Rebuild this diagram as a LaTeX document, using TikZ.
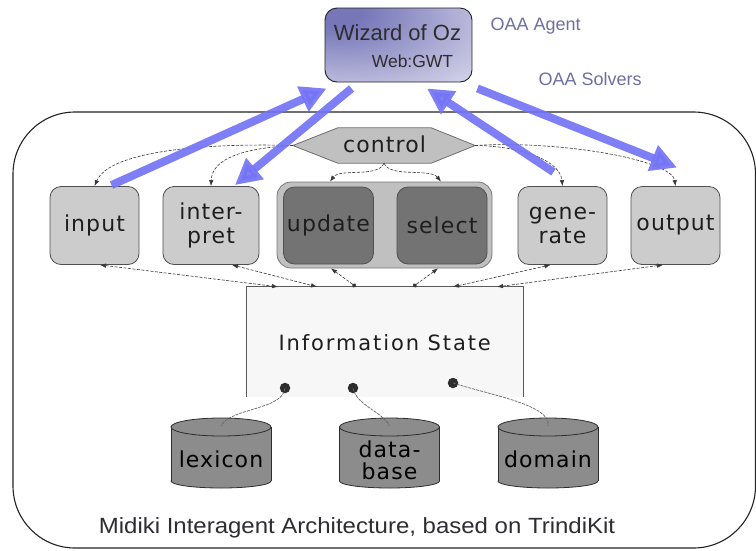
\documentclass[tikz,border=0pt]{standalone}
\usepackage{fontspec}
\setmainfont{DejaVu Sans}
\newfontfamily\boxfont[LetterSpace=5]{DejaVu Sans}
\newfontfamily\isfont[LetterSpace=9]{DejaVu Sans}
\newfontfamily\arialfont{Liberation Sans}
\usetikzlibrary{arrows.meta,calc}
\definecolor{blueA}{RGB}{115,115,245}
\definecolor{lightbox}{RGB}{204,204,204}
\definecolor{darkbox}{RGB}{115,115,115}
\definecolor{groupbox}{RGB}{192,192,192}
\definecolor{cylfill}{RGB}{140,140,140}
\definecolor{cyledge}{RGB}{45,45,45}
\definecolor{isfill}{RGB}{247,247,247}
\definecolor{isedge}{RGB}{90,90,90}
\definecolor{hexedge}{RGB}{110,110,110}
\definecolor{grpedge}{RGB}{120,120,120}
\definecolor{oaatext}{RGB}{110,110,160}
\definecolor{wizA}{RGB}{118,118,185}
\definecolor{wizB}{RGB}{248,248,252}
\definecolor{txt}{RGB}{30,30,30}
\definecolor{captxt}{RGB}{45,45,50}
\definecolor{wiztxt}{RGB}{45,45,45}
\definecolor{edge}{RGB}{80,80,80}
\definecolor{ln}{RGB}{55,55,55}
\definecolor{dln}{RGB}{100,100,100}
\definecolor{frame}{RGB}{35,35,35}
\pgfdeclareradialshading{wizshade}{\pgfpoint{-25bp}{25bp}}{color(0bp)=(wizA); color(10bp)=(wizA); color(68bp)=(wizB); color(100bp)=(wizB)}
\tikzset{
  tipA/.tip={Latex[length=6pt,width=4.5pt]},
  tipO/.tip={Circle[length=4.5pt]},
  lbox/.style={draw=edge, line width=0.8pt, fill=lightbox, rounded corners=11pt,
    minimum width=89pt, minimum height=78pt, inner sep=0pt, align=center,
    font=\boxfont\fontsize{22}{24}\selectfont, text=txt},
  dbox/.style={lbox, fill=darkbox, minimum width=90pt, minimum height=77pt},
  ctl/.style={draw=ln, line width=0.6pt, dash pattern=on 3pt off 1.5pt, -tipA},
  bi/.style={draw=ln, line width=0.6pt, dash pattern=on 3pt off 1.5pt, tipA-tipA},
  bidot/.style={draw=ln, line width=0.6pt, dash pattern=on 3pt off 1.5pt, tipA-tipO},
  dl/.style={draw=dln, line width=0.7pt, dash pattern=on 3pt off 1pt},
  bluearrow/.style={draw=blueA, line width=8pt, opacity=0.92, -{Triangle[length=26pt,width=26pt]}},
  dotnode/.style={circle, fill=cyledge, minimum size=10.5pt, inner sep=0pt},
  cyltext/.style={font=\boxfont\fontsize{22}{22}\selectfont, text=black, align=center},
}
\begin{document}
\begin{tikzpicture}[x=1pt,y=-1pt]
\useasboundingbox (0,0) rectangle (756,550);
% outer frame
\draw[frame, line width=1.1pt, rounded corners=62pt] (13,112) rectangle (755.5,548);
\node[anchor=base, font=\arialfont\fontsize{22}{26}\selectfont, text=captxt] (caption) at (357,533)
  {\scalebox{1.09}[1]{Midiki Interagent Architecture, based on TrindiKit}};
% wizard
\node[draw=frame, line width=0.9pt, rounded corners=12pt, minimum width=147pt, minimum height=74pt,
  shade, shading=wizshade] (wiz) at (398.5,45) {};
\node[anchor=base, font=\arialfont\fontsize{22}{26}\selectfont, text=wiztxt] (wizt) at (397.5,40) {Wizard of Oz};
\node[anchor=base, font=\arialfont\fontsize{17.5}{20}\selectfont, text=wiztxt] (webt) at (412.5,67) {Web:GWT};
\node[anchor=base west, font=\arialfont\fontsize{18}{20}\selectfont, text=oaatext] (oaa1) at (487,30) {OAA Agent};
\node[anchor=base west, font=\arialfont\fontsize{18}{20}\selectfont, text=oaatext] (oaa2) at (535,85) {OAA Solvers};
% control hexagon
\node[minimum width=182pt, minimum height=35pt, inner sep=0pt] (ctrl) at (384,145.5) {};
\draw[draw=hexedge, line width=0.8pt, fill=groupbox]
  (ctrl.west) -- ([xshift=45pt]ctrl.north west) -- ([xshift=-44pt]ctrl.north east) -- (ctrl.east)
  -- ([xshift=-44pt]ctrl.south east) -- ([xshift=45pt]ctrl.south west) -- cycle;
\node[font=\boxfont\fontsize{22}{24}\selectfont, text=txt, anchor=base] (ctrlt) at (384.5,152) {control};
% boxes
\node[lbox] (input) at (94.5,225.5) {input};
\node[lbox, minimum width=96pt] (interp) at (211,225.5) {inter-\\pret};
\node[draw=grpedge, line width=0.8pt, fill=groupbox, rounded corners=14pt,
  minimum width=215pt, minimum height=86pt] (grp) at (384.5,225) {};
\node[dbox] (upd) at (328.5,225.5) {update};
\node[dbox] (sel) at (442,225.5) {select};
\node[lbox] (gen) at (562.5,225.5) {gene-\\rate};
\node[lbox] (out) at (675.5,225.5) {output};
% information state
\node[minimum width=276.5pt, minimum height=110pt, inner sep=0pt] (is) at (384.75,342) {};
\fill[isfill] (is.north west) rectangle (is.south east);
\draw[draw=isedge, line width=0.8pt] (is.south west) -- (is.north west) -- (is.north east) -- (is.south east);
\node[font=\isfont\fontsize{21}{24}\selectfont, text=txt, anchor=base] (ist) at (384.75,350) {Information State};
% cylinders
\foreach \nm/\cx/\lab/\ty in {lex/221/lexicon/459, db/389.5/{data-\\base}/460, dom/548/domain/459} {
  \fill[cylfill, draw=cyledge, line width=0.8pt] (\cx,481) ellipse[x radius=50pt, y radius=7pt];
  \fill[cylfill] (\cx-50,427) rectangle (\cx+50,481);
  \draw[cyledge, line width=0.8pt] (\cx-50,427) -- (\cx-50,481) (\cx+50,427) -- (\cx+50,481);
  \draw[cyledge, line width=0.8pt, fill=cylfill] (\cx,427) ellipse[x radius=50pt, y radius=9pt];
  \coordinate (\nm-top) at (\cx,426);
  \node[cyltext] (\nm) at (\cx,\ty) {\lab};
}
% dots and lines to cylinders
\node[dotnode] (d1) at (285,388) {};
\node[dotnode] (d2) at (353,388) {};
\node[dotnode] (d3) at (453,383) {};
\draw[dl] (d1.center) .. controls (283,410) and (230,408) .. (lex-top);
\draw[dl] (d2.center) .. controls (356,405) and (383,412) .. (db-top);
\draw[dl] (d3.center) .. controls (490,395) and (552,405) .. (dom-top);
% control connectors
\draw[ctl] (ctrl.west) .. controls (210,143) and (110,150) .. (input.north);
\draw[ctl] (ctrl.west) .. controls (245,148) and (212,158) .. (interp.north);
\draw[ctl] (ctrl.south) .. controls (378,178) and (340,168) .. ([xshift=1.5pt]upd.north |- grp.north);
\draw[ctl] (ctrl.south) .. controls (390,178) and (430,168) .. ([xshift=-1pt]sel.north |- grp.north);
\draw[ctl] (ctrl.east) .. controls (520,146) and (560,160) .. (gen.north);
\draw[ctl] (ctrl.east) .. controls (560,140) and (672,160) .. (out.north);
% connectors to information state
\draw[bi] ([xshift=5.5pt]input.south) -- ([xshift=-106.75pt]is.north);
\draw[bi] ([xshift=21pt]interp.south) -- ([xshift=-67.75pt]is.north);
\draw[bidot] ([xshift=2.5pt]upd.south |- grp.south) -- ([xshift=-28.75pt]is.north);
\draw[bidot] ([xshift=-4pt]sel.south |- grp.south) -- ([xshift=28.25pt]is.north);
\draw[bi] ([xshift=-12pt]gen.south) -- ([xshift=68.25pt]is.north);
\draw[bi] ([xshift=-12.5pt]out.south) -- ([xshift=112.25pt]is.north);
% blue OAA arrows
\draw[bluearrow] ([xshift=17pt,yshift=1pt]input.north) -- ([xshift=2pt,yshift=-6pt]wiz.south west);
\draw[bluearrow] ([xshift=27pt,yshift=-6pt]wiz.south west) -- ([xshift=24pt,yshift=1pt]interp.north);
\draw[bluearrow] ([xshift=-9pt,yshift=14pt]gen.north) -- ([xshift=28.5pt,yshift=-6pt]wiz.south);
\draw[bluearrow] ([xshift=5pt,yshift=-6pt]wiz.south east) -- ([xshift=1.5pt,yshift=18.5pt]out.north);
\end{tikzpicture}
\end{document}
